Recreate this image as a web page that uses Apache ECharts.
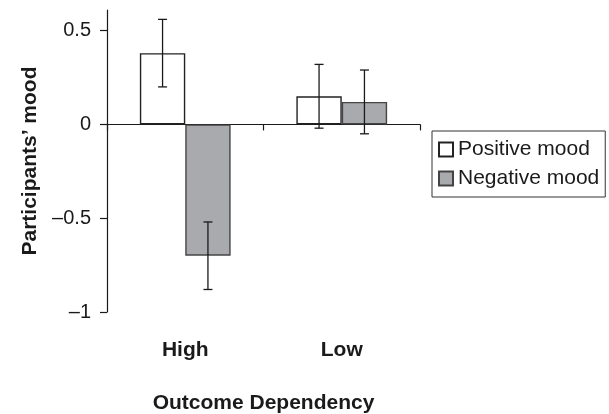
<!DOCTYPE html>
<html>
<head>
<meta charset="utf-8">
<script src="https://cdn.jsdelivr.net/npm/echarts@6/dist/echarts.min.js"></script>
<style>
  html, body { margin: 0; padding: 0; background: #fff; }
  #chart { width: 609px; height: 414px; }
</style>
</head>
<body>
<div id="chart"></div>
<script>
// Mean mood by outcome dependency, with error bars (±)
const categories = ['High', 'Low'];
const positiveMood = [0.38, 0.15];
const negativeMood = [-0.70, 0.12];
const positiveErr = [0.18, 0.17];
const negativeErr = [0.18, 0.17];
const yTicks = [-1, -0.5, 0, 0.5];

const FONT = "'Liberation Sans', Arial, Helvetica, sans-serif";
const INK = '#1a1a1a';
const BAR_RATIO = 0.29;

function fmt(v) {
  return v < 0 ? '\u2013' + String(Math.abs(v)) : String(v);
}

// Error bar series: side -1 for left bar of each pair, +1 for right bar
function errorSeries(name, values, errs, side) {
  return {
    type: 'custom',
    name: name + ' error',
    xAxisIndex: 0,
    z: 10,
    silent: true,
    data: values.map((v, i) => [i, v - errs[i], v + errs[i]]),
    encode: { x: 0, y: [1, 2] },
    renderItem: function (params, api) {
      const lo = api.coord([api.value(0), api.value(1)]);
      const hi = api.coord([api.value(0), api.value(2)]);
      const band = api.size([1, 0])[0];
      const x = lo[0] + side * band * BAR_RATIO / 2;
      const cap = 4.5;
      const style = { stroke: INK, lineWidth: 1.3 };
      return {
        type: 'group',
        children: [
          { type: 'line', shape: { x1: x, y1: hi[1], x2: x, y2: lo[1] }, style: style },
          { type: 'line', shape: { x1: x - cap, y1: hi[1], x2: x + cap, y2: hi[1] }, style: style },
          { type: 'line', shape: { x1: x - cap, y1: lo[1], x2: x + cap, y2: lo[1] }, style: style }
        ]
      };
    }
  };
}

const chart = echarts.init(document.getElementById('chart'), null, { renderer: 'canvas' });

chart.setOption({
  animation: false,
  backgroundColor: '#ffffff',
  textStyle: { fontFamily: FONT, color: INK },
  grid: { left: 107, right: 189, top: 10, bottom: 102, containLabel: false, outerBoundsMode: 'none' },
  legend: {
    orient: 'vertical',
    left: 432,
    top: 131,
    padding: [8, 6, 8, 6],
    itemGap: 8,
    itemWidth: 14,
    itemHeight: 14,
    borderColor: '#333',
    borderWidth: 1,
    icon: 'rect',
    data: ['Positive mood', 'Negative mood'],
    textStyle: { fontFamily: FONT, fontSize: 21, color: INK }
  },
  xAxis: [
    {
      type: 'category',
      data: categories,
      axisLine: { onZero: true, lineStyle: { color: INK, width: 1.2 } },
      axisTick: { show: true, length: 6, lineStyle: { color: INK, width: 1.2 } },
      axisLabel: { show: false },
      splitLine: { show: false }
    },
    {
      type: 'category',
      data: categories,
      position: 'bottom',
      axisLine: { show: false, onZero: false },
      axisTick: { show: false },
      axisLabel: { margin: 28, fontFamily: FONT, fontSize: 21, fontWeight: 'bold', color: INK },
      name: 'Outcome Dependency',
      nameLocation: 'middle',
      nameGap: 81,
      nameTextStyle: { fontFamily: FONT, fontSize: 21, fontWeight: 'bold', color: INK }
    }
  ],
  yAxis: {
    type: 'value',
    min: -1,
    max: 0.61,
    interval: 0.5,
    axisLine: { show: true, lineStyle: { color: INK, width: 1.2 } },
    axisTick: { show: true, length: 7, customValues: yTicks, lineStyle: { color: INK, width: 1.2 } },
    axisLabel: {
      customValues: yTicks,
      margin: 16,
      fontFamily: FONT,
      fontSize: 20,
      color: INK,
      formatter: fmt
    },
    splitLine: { show: false },
    name: 'Participants\u2019 mood',
    nameLocation: 'middle',
    nameRotate: 90,
    nameGap: 66,
    nameTextStyle: { fontFamily: FONT, fontSize: 21, fontWeight: 'bold', color: INK }
  },
  series: [
    {
      name: 'Positive mood',
      type: 'bar',
      xAxisIndex: 0,
      data: positiveMood,
      barWidth: (BAR_RATIO * 100) + '%',
      barGap: '0%',
      itemStyle: { color: '#ffffff', borderColor: '#222222', borderWidth: 1.4 }
    },
    {
      name: 'Negative mood',
      type: 'bar',
      xAxisIndex: 0,
      data: negativeMood,
      barWidth: (BAR_RATIO * 100) + '%',
      barGap: '0%',
      itemStyle: { color: '#a9aaad', borderColor: '#444444', borderWidth: 1.4 }
    },
    errorSeries('Positive mood', positiveMood, positiveErr, -1),
    errorSeries('Negative mood', negativeMood, negativeErr, 1)
  ]
});
</script>
</body>
</html>
